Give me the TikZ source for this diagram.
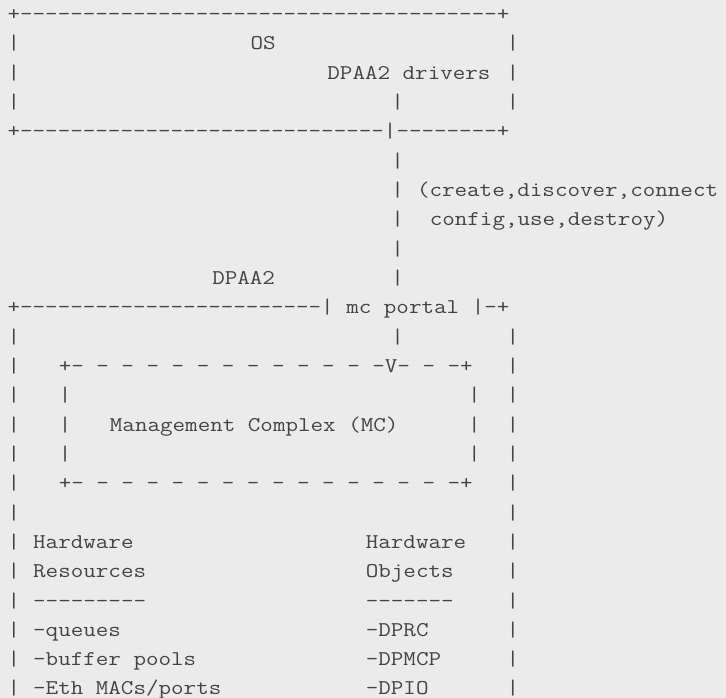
\documentclass[tikz,border=0pt]{standalone}
\usepackage{fontspec}
\setmonofont{Latin Modern Mono}[FakeStretch=1.16]
\definecolor{bg}{HTML}{EBEBEB}
\definecolor{fg}{HTML}{444444}
\tikzset{
  txt/.style={inner sep=0pt, outer sep=0pt, anchor=base west, text=fg,
    font=\ttfamily\fontsize{21pt}{29.33pt}\selectfont}
}
% name, column, line, text
\newcommand\ct[4]{\node[txt] (#1) at ({7.6+12.794*#2},{-20.4-29.33*(#3-1)}) {#4};}
\begin{document}
\begin{tikzpicture}[x=1pt,y=1pt]
\fill[bg] (0,0) rectangle (726,-698);
\useasboundingbox (0,0) rectangle (726,-698);
% OS box
\ct{l1}{0}{1}{+--------------------------------------+}
\ct{l2a}{0}{2}{|}\ct{os}{19}{2}{OS}\ct{l2b}{39}{2}{|}
\ct{l3a}{0}{3}{|}\ct{drv}{25}{3}{DPAA2 drivers}\ct{l3b}{39}{3}{|}
\ct{l4a}{0}{4}{|}\ct{l4v}{30}{4}{|}\ct{l4b}{39}{4}{|}
\ct{l5}{0}{5}{+-----------------------------|--------+}
% connector
\ct{l6v}{30}{6}{|}
\ct{l7v}{30}{7}{|}\ct{ops1}{32}{7}{(create,discover,connect}
\ct{l8v}{30}{8}{|}\ct{ops2}{33}{8}{config,use,destroy)}
\ct{l9v}{30}{9}{|}
\ct{dpaa}{16}{10}{DPAA2}\ct{l10v}{30}{10}{|}
% DPAA2 box
\ct{l11}{0}{11}{+------------------------| mc portal |-+}
\ct{l12a}{0}{12}{|}\ct{l12v}{30}{12}{|}\ct{l12b}{39}{12}{|}
\ct{l13a}{0}{13}{|}\ct{mctop}{4}{13}{+- - - - - - - - - - - - -V- - -+}\ct{l13b}{39}{13}{|}
\ct{l14a}{0}{14}{|}\ct{l14c}{4}{14}{|}\ct{l14d}{36}{14}{|}\ct{l14b}{39}{14}{|}
\ct{l15a}{0}{15}{|}\ct{l15c}{4}{15}{|}\ct{mc}{8}{15}{Management Complex (MC)}\ct{l15d}{36}{15}{|}\ct{l15b}{39}{15}{|}
\ct{l16a}{0}{16}{|}\ct{l16c}{4}{16}{|}\ct{l16d}{36}{16}{|}\ct{l16b}{39}{16}{|}
\ct{l17a}{0}{17}{|}\ct{mcbot}{4}{17}{+- - - - - - - - - - - - - - - -+}\ct{l17b}{39}{17}{|}
\ct{l18a}{0}{18}{|}\ct{l18b}{39}{18}{|}
\ct{l19a}{0}{19}{|}\ct{hr1}{2}{19}{Hardware}\ct{ho1}{28}{19}{Hardware}\ct{l19b}{39}{19}{|}
\ct{l20a}{0}{20}{|}\ct{hr2}{2}{20}{Resources}\ct{ho2}{28}{20}{Objects}\ct{l20b}{39}{20}{|}
\ct{l21a}{0}{21}{|}\ct{hr3}{2}{21}{---------}\ct{ho3}{28}{21}{-------}\ct{l21b}{39}{21}{|}
\ct{l22a}{0}{22}{|}\ct{hr4}{2}{22}{-queues}\ct{ho4}{28}{22}{-DPRC}\ct{l22b}{39}{22}{|}
\ct{l23a}{0}{23}{|}\ct{hr5}{2}{23}{-buffer pools}\ct{ho5}{28}{23}{-DPMCP}\ct{l23b}{39}{23}{|}
\ct{l24a}{0}{24}{|}\ct{hr6}{2}{24}{-Eth MACs/ports}\ct{ho6}{28}{24}{-DPIO}\ct{l24b}{39}{24}{|}
\end{tikzpicture}
\end{document}
